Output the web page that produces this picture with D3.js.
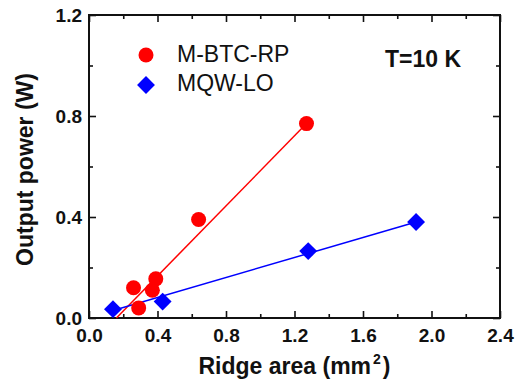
<!DOCTYPE html>
<html>
<head>
<meta charset="utf-8">
<script src="https://cdn.jsdelivr.net/npm/d3@7"></script>
<style>
  body { margin: 0; background: #fff; }
  text { font-family: "Liberation Sans", Arial, sans-serif; fill: #111; }
</style>
</head>
<body>
<div id="chartArea"></div>
<script>
// values
var btcArea  = [0.26, 0.29, 0.37, 0.39, 0.64, 1.27];
var btcPower = [0.12, 0.04, 0.11, 0.155, 0.39, 0.77];
var mqwArea  = [0.14, 0.43, 1.28, 1.91];
var mqwPower = [0.035, 0.065, 0.265, 0.38];
// linear fit lines, endpoints as drawn
var btcFitX = [0.16, 1.27], btcFitY = [0.0, 0.77];
var mqwFitX = [0.14, 1.91], mqwFitY = [0.03, 0.38];

var xMajor = [0, 0.4, 0.8, 1.2, 1.6, 2.0, 2.4];
var xMinor = [0.2, 0.6, 1.0, 1.4, 1.8, 2.2];
var yMajor = [0, 0.4, 0.8, 1.2];
var yMinor = [0.2, 0.6, 1.0];
var seriesNames = ['M-BTC-RP', 'MQW-LO'];

var width = 518, height = 389;
var margin = {top: 15, right: 18, bottom: 71, left: 89};
var w = width - margin.left - margin.right;
var h = height - margin.top - margin.bottom;

var xscale = d3.scaleLinear().domain([0, 2.4]).range([0, w]);
var yscale = d3.scaleLinear().domain([0, 1.2]).range([h, 0]);

var svg = d3.select('#chartArea').append('svg')
    .attr('width', width)
    .attr('height', height);
var g = svg.append('g')
    .attr('transform', 'translate(' + margin.left + ',' + margin.top + ')');

function styleAxis(sel, labels) {
    sel.select('.domain').remove();
    sel.selectAll('.tick line').attr('stroke', '#111').attr('stroke-width', 1.6);
    if (!labels) sel.selectAll('.tick text').remove();
    else sel.selectAll('.tick text')
        .style('font-size', '19px').style('font-weight', 'bold').attr('fill', '#111');
}
var fmt = d3.format('.1f');

// bottom
g.append('g').attr('transform', 'translate(0,' + h + ')')
    .call(d3.axisBottom(xscale).tickValues(xMajor).tickFormat(fmt).tickSize(-7).tickPadding(11))
    .call(styleAxis, true);
g.append('g').attr('transform', 'translate(0,' + h + ')')
    .call(d3.axisBottom(xscale).tickValues(xMinor).tickSize(-4))
    .call(styleAxis, false);
// top
g.append('g')
    .call(d3.axisTop(xscale).tickValues(xMajor).tickSize(-7))
    .call(styleAxis, false);
g.append('g')
    .call(d3.axisTop(xscale).tickValues(xMinor).tickSize(-4))
    .call(styleAxis, false);
// left
g.append('g')
    .call(d3.axisLeft(yscale).tickValues(yMajor).tickFormat(fmt).tickSize(-7).tickPadding(7))
    .call(styleAxis, true);
g.append('g')
    .call(d3.axisLeft(yscale).tickValues(yMinor).tickSize(-4))
    .call(styleAxis, false);
// right
g.append('g').attr('transform', 'translate(' + w + ',0)')
    .call(d3.axisRight(yscale).tickValues(yMajor).tickSize(-7))
    .call(styleAxis, false);
g.append('g').attr('transform', 'translate(' + w + ',0)')
    .call(d3.axisRight(yscale).tickValues(yMinor).tickSize(-4))
    .call(styleAxis, false);

// frame
g.append('rect')
    .attr('width', w).attr('height', h)
    .attr('fill', 'none').attr('stroke', '#111').attr('stroke-width', 2);

// fit lines
var line = d3.line().x(function(d){ return xscale(d[0]); }).y(function(d){ return yscale(d[1]); });
g.append('path').datum(d3.zip(btcFitX, btcFitY))
    .attr('d', line).attr('fill', 'none').attr('stroke', '#ff0000').attr('stroke-width', 1.5);
g.append('path').datum(d3.zip(mqwFitX, mqwFitY))
    .attr('d', line).attr('fill', 'none').attr('stroke', '#0000ff').attr('stroke-width', 1.5);

// points
var diamond = d3.symbol().type(d3.symbolSquare).size(160);
g.selectAll('.mqw').data(d3.zip(mqwArea, mqwPower)).enter().append('path')
    .attr('class', 'mqw')
    .attr('d', diamond)
    .attr('transform', function(d){ return 'translate(' + xscale(d[0]) + ',' + yscale(d[1]) + ') rotate(45)'; })
    .attr('fill', '#0000ff');
g.selectAll('.btc').data(d3.zip(btcArea, btcPower)).enter().append('circle')
    .attr('class', 'btc')
    .attr('cx', function(d){ return xscale(d[0]); })
    .attr('cy', function(d){ return yscale(d[1]); })
    .attr('r', 7.5)
    .attr('fill', '#ff0000');

// legend
var legend = svg.append('g');
legend.append('circle').attr('cx', 146).attr('cy', 55).attr('r', 7.5).attr('fill', '#ff0000');
legend.append('path').attr('d', diamond)
    .attr('transform', 'translate(146,85) rotate(45)').attr('fill', '#0000ff');
legend.selectAll('text').data(seriesNames).enter().append('text')
    .attr('x', 177)
    .attr('y', function(d, i){ return 62 + i * 29; })
    .style('font-size', '23px')
    .text(function(d){ return d; });

svg.append('text')
    .attr('x', 385).attr('y', 67)
    .style('font-size', '23px').style('font-weight', 'bold')
    .text('T=10 K');

// axis titles
var xt = svg.append('text')
    .attr('x', margin.left + w / 2).attr('y', 374)
    .attr('text-anchor', 'middle')
    .style('font-size', '23px').style('font-weight', 'bold');
xt.append('tspan').text('Ridge area (mm');
xt.append('tspan').attr('dx', 2).attr('dy', -10).style('font-size', '14px').text('2');
xt.append('tspan').attr('dx', 2).attr('dy', 10).text(')');

svg.append('text')
    .attr('transform', 'translate(33,' + (margin.top + h / 2 + 3) + ') rotate(-90)')
    .attr('text-anchor', 'middle')
    .style('font-size', '23px').style('font-weight', 'bold')
    .text('Output power (W)');
</script>
</body>
</html>
